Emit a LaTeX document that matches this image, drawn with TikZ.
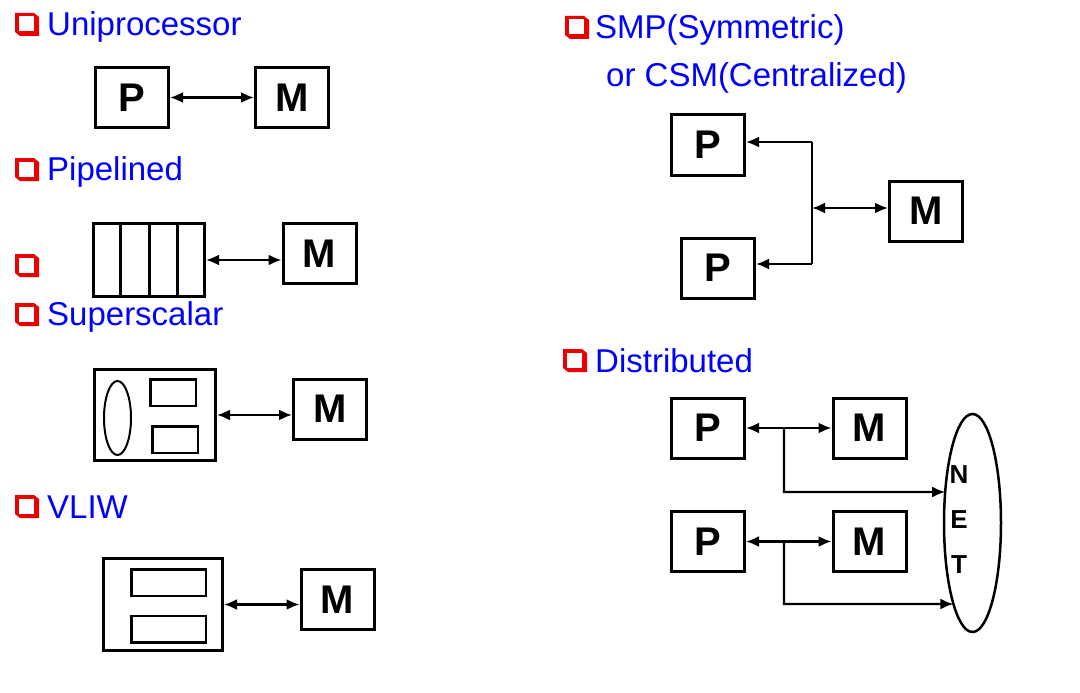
\documentclass[tikz,border=0pt]{standalone}
\usepackage{fontspec}
\setmainfont{Liberation Sans}
\usetikzlibrary{arrows.meta, positioning, shapes.geometric, intersections}
\definecolor{headblue}{RGB}{0,0,255}
\definecolor{bulletred}{RGB}{235,0,0}
\tikzset{
  unitbox/.style={draw, line width=3pt, minimum width=73pt, minimum height=60pt,
                  inner sep=0pt, font=\bfseries\fontsize{40}{40}\selectfont},
  framebox/.style={draw, line width=3pt, inner sep=0pt},
  innerbox/.style={draw, line width=2.5pt, inner sep=0pt},
  heading/.style={anchor=base west, inner sep=0pt, text=headblue,
                  font=\fontsize{33}{38}\selectfont},
  arrow/.style={-{Latex[length=13pt,width=11pt]}, line width=2.2pt},
  darrow/.style={{Latex[length=13pt,width=11pt]}-{Latex[length=13pt,width=11pt]},
                 line width=2.2pt},
  wire/.style={line width=2.2pt},
  qbullet/.pic={
    \fill[bulletred] (0,0) -- (19,0) -- (24,4) -- (24,23) -- (5,23) -- (0,19) -- cycle;
    \fill[white] (3.5,3.5) rectangle (18.5,18.5);
  },
}

\begin{document}
\begin{tikzpicture}[x=1pt, y=-1pt]
  \useasboundingbox (0,0) rectangle (1080,693);

  % Uniprocessor
  \pic at (15,13) {qbullet};
  \node[heading] (uniT) at (47,36) {Uniprocessor};
  \node[unitbox] (uniP) at (132,97.5) {P};
  \node[unitbox] (uniM) at (292,97.5) {M};
  \draw[darrow] (uniP) -- (uniM);

  % Pipelined
  \pic at (15,158) {qbullet};
  \node[heading] (pipeT) at (47,180) {Pipelined};
  \pic at (15,254) {qbullet};
  \node[framebox, minimum width=111pt, minimum height=73pt] (pipe) at (149,260) {};
  \foreach \i in {1,2,3}
    \draw[line width=3pt] ([xshift=\i*28.5pt]pipe.north west)
      -- ([xshift=\i*28.5pt]pipe.south west);
  \node[unitbox] (pipeM) at (319.5,253.5) {M};
  \draw[darrow] (pipe.east) -- (pipe.east -| pipeM.west);

  % Superscalar
  \pic at (15,303) {qbullet};
  \node[heading] (ssT) at (47,325) {Superscalar};
  \node[framebox, minimum width=121pt, minimum height=91pt] (ss) at (155,415) {};
  \node[draw, ellipse, line width=2pt, minimum width=27pt, minimum height=74pt,
        inner sep=0pt] (ssE) at (117.5,418) {};
  \node[innerbox, minimum width=45.5pt, minimum height=26.5pt] (ssU) at (173,392.5) {};
  \node[innerbox, minimum width=45.5pt, minimum height=26.5pt] (ssL) at (175,439.5) {};
  \node[unitbox] (ssM) at (330,409) {M};
  \draw[darrow] (ss.east) -- (ss.east -| ssM.west);

  % VLIW
  \pic at (15,495) {qbullet};
  \node[heading] (vliwT) at (47,518) {VLIW};
  \node[framebox, minimum width=119pt, minimum height=92pt] (vliw) at (163,604.5) {};
  \node[innerbox, minimum width=74.5pt, minimum height=26.5pt] (vliwU) at (168.5,582.5) {};
  \node[innerbox, minimum width=74.5pt, minimum height=26.5pt] (vliwL) at (168.5,629) {};
  \node[unitbox] (vliwM) at (337.5,599.5) {M};
  \draw[darrow] (vliw.east) -- (vliw.east -| vliwM.west);

  % SMP / CSM
  \pic at (565,16) {qbullet};
  \node[heading] (smpT) at (595,39) {SMP(Symmetric)};
  \node[heading] (csmT) at (606,87) {or CSM(Centralized)};
  \node[unitbox] (smpP1) at (708,145) {P};
  \node[unitbox] (smpP2) at (718,268) {P};
  \node[unitbox] (smpM) at (926,211) {M};
  \coordinate (busTop) at (812,142);
  \coordinate (busBot) at (812,264);
  \coordinate (busMid) at (812,208);
  \draw[wire] (busTop) -- (busBot);
  \draw[arrow] (busTop) -- (busTop -| smpP1.east);
  \draw[arrow] (busBot) -- (busBot -| smpP2.east);
  \draw[darrow] (busMid) -- (busMid -| smpM.west);

  % Distributed
  \pic at (563,349) {qbullet};
  \node[heading] (distT) at (595,372) {Distributed};
  \node[unitbox] (distP1) at (708,428) {P};
  \node[unitbox] (distM1) at (869.5,428) {M};
  \node[unitbox] (distP2) at (708,541.5) {P};
  \node[unitbox] (distM2) at (869.5,541.5) {M};
  \node[draw, ellipse, line width=2.5pt, minimum width=57pt, minimum height=218pt,
        inner sep=0pt, name path=netpath] (net) at (972.5,523) {};
  \node[font=\bfseries\fontsize{26}{45}\selectfont, align=center, inner sep=0pt]
    (netT) at (959,520) {N\\E\\T};
  \draw[darrow] (distP1) -- (distM1);
  \draw[darrow] (distP2) -- (distM2);
  \coordinate (tap1) at (784,428);
  \coordinate (bend1) at (784,492);
  \coordinate (tap2) at (784,541.5);
  \coordinate (bend2) at (784,604);
  \path[name path=ray1] (bend1) -- ++(250,0);
  \path[name path=ray2] (bend2) -- ++(250,0);
  \draw[arrow, name intersections={of=netpath and ray1, sort by=ray1}]
    (tap1) -- (bend1) -- (intersection-1);
  \draw[arrow, name intersections={of=netpath and ray2, sort by=ray2}]
    (tap2) -- (bend2) -- (intersection-1);

\end{tikzpicture}
\end{document}
